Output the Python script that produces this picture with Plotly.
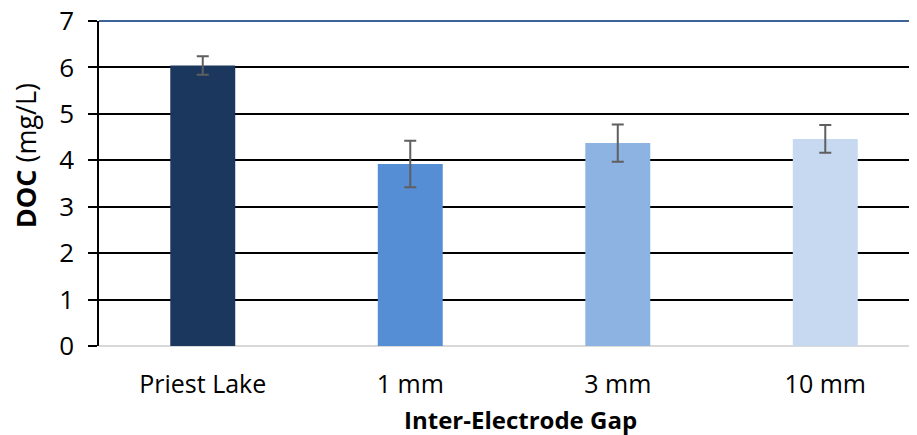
import plotly.graph_objects as go

categories = ["Priest Lake", "1 mm", "3 mm", "10 mm"]
doc_values = [6.04, 3.92, 4.37, 4.46]
doc_errors = [0.20, 0.50, 0.40, 0.30]
bar_colors = ["#1b375d", "#558ed5", "#8db3e2", "#c6d9f1"]
y_ticks = [0, 1, 2, 3, 4, 5, 6, 7]

FONT = "Open Sans"

fig = go.Figure()
fig.add_trace(go.Bar(
    x=categories,
    y=doc_values,
    marker=dict(color=bar_colors, line=dict(width=0)),
    width=0.313,
    error_y=dict(type="data", array=doc_errors, visible=True,
                 color="#5f5f5f", thickness=2, width=6),
))

# page body has an 8px margin, so the figure is 8px smaller than the window
fig.update_layout(
    width=909, height=427,
    margin=dict(l=91, r=0, t=12.5, b=89, pad=0, autoexpand=False),
    paper_bgcolor="white", plot_bgcolor="white",
    showlegend=False,
    font=dict(family=FONT, size=25, color="#000000"),
    xaxis=dict(
        type="category",
        automargin=False,
        range=[-0.5, 3.442],
        showgrid=False,
        showline=False,
        ticks="",
        ticklabelstandoff=21,
        ticklabeloverflow="allow",
        tickfont=dict(family=FONT, size=25, color="#000000"),
    ),
    yaxis=dict(
        automargin=False,
        range=[0, 7],
        tickvals=y_ticks,
        showgrid=True, gridcolor="#000000", gridwidth=1.6,
        zeroline=True, zerolinecolor="#d9d9d9", zerolinewidth=1.6,
        showline=True, linecolor="#000000", linewidth=1.6,
        ticks="outside", ticklen=9, tickcolor="#000000", tickwidth=1.6,
        ticklabelstandoff=9,
        ticklabeloverflow="allow",
        tickfont=dict(family=FONT, size=26, color="#000000"),
    ),
    shapes=[dict(type="line", xref="paper", yref="paper", x0=0, x1=1, y0=1, y1=1,
                 line=dict(color="#3c6496", width=2.2), layer="above")],
    annotations=[
        dict(text="<b>DOC</b> (mg/L)", textangle=-90, showarrow=False,
             xref="paper", yref="paper", x=-0.0905, y=0.587,
             xanchor="center", yanchor="middle",
             font=dict(family=FONT, size=27, color="#000000")),
        dict(text="<b>Inter-Electrode Gap</b>", showarrow=False,
             xref="paper", yref="paper", x=0.5147, y=-0.227,
             xanchor="center", yanchor="middle",
             font=dict(family=FONT, size=24, color="#000000")),
    ],
)

fig.write_html("out.html")
